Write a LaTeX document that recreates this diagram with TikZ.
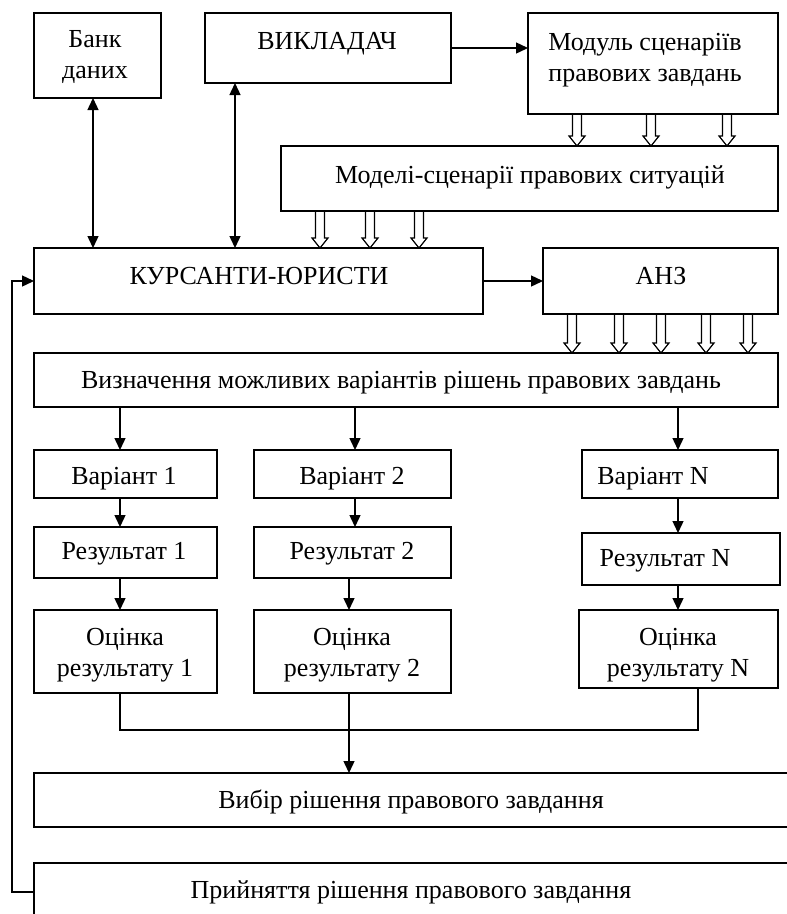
\documentclass[tikz,border=0pt]{standalone}
\usepackage{fontspec}
\setmainfont{Liberation Serif}
\usetikzlibrary{arrows.meta,calc}
\tikzset{
  box/.style={draw, line width=1.5pt, inner sep=0pt, outer sep=0pt},
  txt/.style={inner sep=0pt, font=\fontsize{26}{31}\selectfont, align=center},
  one/.style={text height=18pt, text depth=5pt},
  con/.style={line width=1.4pt, -{Triangle[length=12pt,width=11pt]}},
  bicon/.style={line width=1.4pt, {Triangle[length=12pt,width=11pt]}-{Triangle[length=12pt,width=11pt]}},
  plain/.style={line width=1.4pt},
  hollow/.style={line width=1.2pt, line join=miter},
  harrow/.pic={\draw[hollow] (-4.5,0) -- (-4.5,#1-10) -- (-8,#1-10) -- (0,#1) -- (8,#1-10) -- (4.5,#1-10) -- (4.5,0);}
}
\newcommand\mkbox[5]{\node[box, minimum width={(#4-#2)*1pt}, minimum height={(#5-#3)*1pt}] (#1) at ({(#2+#4)/2},{(#3+#5)/2}) {};}
\begin{document}
\begin{tikzpicture}[x=1pt,y=-1pt]
\useasboundingbox (0,0) rectangle (787,914);
\clip (0,0) rectangle (787,914);
% boxes
\mkbox{bank}{34}{13}{161}{98}
\mkbox{vykl}{205}{13}{451}{83}
\mkbox{modul}{528}{13}{778}{114}
\mkbox{model}{281}{146}{778}{211}
\mkbox{kurs}{34}{248}{483}{314}
\mkbox{anz}{543}{248}{778}{314}
\mkbox{defn}{34}{353}{778}{407}
\mkbox{v1}{34}{450}{217}{498}
\mkbox{v2}{254}{450}{451}{498}
\mkbox{vN}{582}{450}{778}{498}
\mkbox{r1}{34}{527}{217}{578}
\mkbox{r2}{254}{527}{451}{578}
\mkbox{rN}{582}{533}{780}{585}
\mkbox{o1}{34}{610}{217}{693}
\mkbox{o2}{254}{610}{451}{693}
\mkbox{oN}{579}{610}{778}{688}
\mkbox{vybir}{34}{773}{800}{827}
\mkbox{prin}{34}{863}{800}{921}
% texts
\node[txt] (bankt) at (95,57) {Банк\\даних};
\node[txt,one] (vyklt) at (327,43) {ВИКЛАДАЧ};
\node[txt] (modult) at (645,60) {Модуль сценаріїв\\правових завдань};
\node[txt,one] (modelt) at (530,177) {Моделі-сценарії правових ситуацій};
\node[txt,one] (kurst) at (259,278) {КУРСАНТИ-ЮРИСТИ};
\node[txt,one] (anzt) at (661,278) {АНЗ};
\node[txt,one] (defnt) at (401,382) {Визначення можливих варіантів рішень правових завдань};
\node[txt,one] (v1t) at (124,478) {Варіант 1};
\node[txt,one] (v2t) at (352,478) {Варіант 2};
\node[txt,one] (vNt) at (653,478) {Варіант N};
\node[txt,one] (r1t) at (124,553) {Результат 1};
\node[txt,one] (r2t) at (352,553) {Результат 2};
\node[txt,one] (rNt) at (665,560) {Результат N};
\node[txt] (o1t) at (125,655) {Оцінка\\результату 1};
\node[txt] (o2t) at (352,655) {Оцінка\\результату 2};
\node[txt] (oNt) at (678,655) {Оцінка\\результату N};
\node[txt,one] (vybirt) at (411,802) {Вибір рішення правового завдання};
\node[txt,one] (print) at (411,892) {Прийняття рішення правового завдання};
% column coordinates
\coordinate (xb) at (93,0);
\coordinate (xv) at (235,0);
\coordinate (c1) at (120,0);
\coordinate (c2a) at (355,0);
\coordinate (c2b) at (349,0);
\coordinate (cN) at (678,0);
\coordinate (cNo) at (698,0);
\coordinate (fb) at (12,0);
\coordinate (mrg) at (0,730);
\coordinate (fby) at (0,892);
% connectors
\draw[bicon] (bank.south -| xb) -- (kurs.north -| xb);
\draw[bicon] (vykl.south -| xv) -- (kurs.north -| xv);
\draw[con] (vykl.east) -- (vykl.east -| modul.west);
\draw[con] (kurs.east) -- (anz.west);
\pic at (modul.south -| 577,0) {harrow=32};
\pic at (modul.south -| 651,0) {harrow=32};
\pic at (modul.south -| 727,0) {harrow=32};
\pic at (model.south -| 320,0) {harrow=37};
\pic at (model.south -| 370,0) {harrow=37};
\pic at (model.south -| 419,0) {harrow=37};
\pic at (anz.south -| 572,0) {harrow=39};
\pic at (anz.south -| 619,0) {harrow=39};
\pic at (anz.south -| 661,0) {harrow=39};
\pic at (anz.south -| 706,0) {harrow=39};
\pic at (anz.south -| 748,0) {harrow=39};
\draw[con] (defn.south -| c1) -- (v1.north -| c1);
\draw[con] (defn.south -| c2a) -- (v2.north -| c2a);
\draw[con] (defn.south -| cN) -- (vN.north -| cN);
\draw[con] (v1.south -| c1) -- (r1.north -| c1);
\draw[con] (v2.south -| c2a) -- (r2.north -| c2a);
\draw[con] (vN.south -| cN) -- (rN.north -| cN);
\draw[con] (r1.south -| c1) -- (o1.north -| c1);
\draw[con] (r2.south -| c2b) -- (o2.north -| c2b);
\draw[con] (rN.south -| cN) -- (oN.north -| cN);
\draw[plain] (o1.south -| c1) -- (mrg -| c1) -- (mrg -| cNo) -- (oN.south -| cNo);
\draw[con] (o2.south -| c2b) -- (vybir.north -| c2b);
\draw[con] (prin.west |- fby) -- (fb |- fby) -- (fb |- kurs.west) -- (kurs.west);
\end{tikzpicture}
\end{document}
